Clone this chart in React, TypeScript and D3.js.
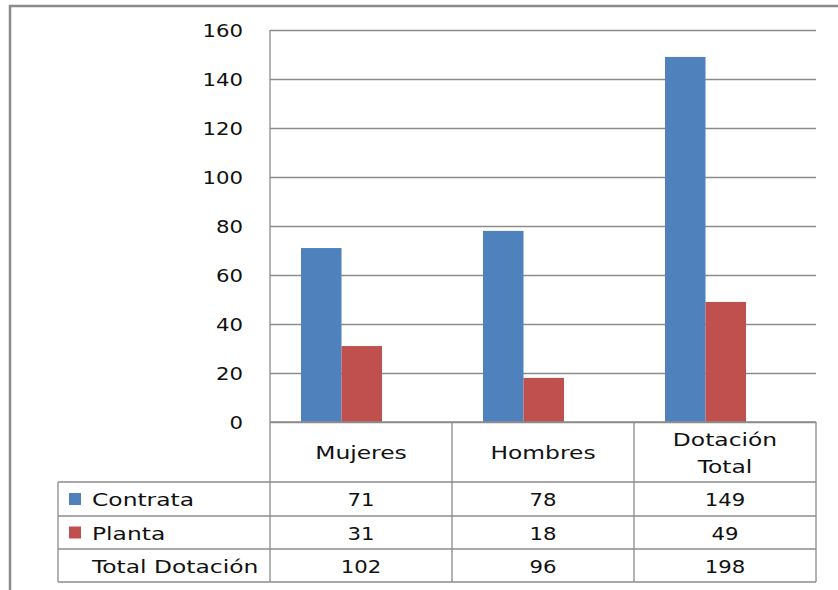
import React, { useEffect, useRef } from "react";
import * as d3 from "d3";

const categories = ["Mujeres", "Hombres", "Dotación Total"];
const contrata = [71, 78, 149];
const planta = [31, 18, 49];
const totalDotacion = [102, 96, 198];
const yTicks = [0, 20, 40, 60, 80, 100, 120, 140, 160];

const series = [
  { name: "Contrata", values: contrata, color: "#4F81BD" },
  { name: "Planta", values: planta, color: "#C0504D" },
];

const App: React.FC = () => {
  const svgRef = useRef<SVGSVGElement>(null);

  useEffect(() => {
    if (!svgRef.current) return;
    const W = 838, H = 590;
    const plot = { left: 270, right: 816, top: 30, bottom: 422 };
    const rowH = [482, 516, 549, 582]; // table row boundaries
    const tableLeft = 58;
    const font = "'DejaVu Sans', sans-serif";
    const fs = 18;
    const gridColor = "#8c8c8c";

    const svg = d3.select(svgRef.current).attr("width", W).attr("height", H);
    svg.selectAll("*").remove();

    svg.append("rect").attr("width", W).attr("height", H).attr("fill", "#fff");

    // outer frame (left + top visible)
    svg.append("path")
      .attr("d", `M10,${H} L10,6 L${W},6`)
      .attr("fill", "none").attr("stroke", "#8a8a8a").attr("stroke-width", 2.5);

    // text helper - the reference glyphs are stretched wide
    const label = (
      g: d3.Selection<any, unknown, null, undefined>,
      tx: number, ty: number, str: string,
      anchor = "start", sx = 1.3,
    ) =>
      g.append("text")
        .attr("transform", `translate(${tx},${ty}) scale(${sx},1)`)
        .attr("text-anchor", anchor)
        .attr("font-family", font).attr("font-size", fs).attr("fill", "#111")
        .text(str);

    const x = d3.scaleBand().domain(categories).range([plot.left, plot.right]).padding(0);
    const y = d3.scaleLinear().domain([0, 160]).range([plot.bottom, plot.top]);

    // grid lines
    svg.append("g")
      .attr("transform", `translate(${plot.left},0)`)
      .call(d3.axisLeft(y).tickValues(yTicks).tickSize(-(plot.right - plot.left)).tickFormat(() => ""))
      .call(g => g.select(".domain").remove())
      .call(g => g.selectAll(".tick line").attr("stroke", gridColor).attr("stroke-width", 1.3));

    // y tick labels
    const yl = svg.append("g");
    yTicks.forEach(t => label(yl, 243, y(t) + 7, `${t}`, "end", 1.18));

    // plot left edge
    svg.append("line")
      .attr("x1", plot.left).attr("x2", plot.left)
      .attr("y1", plot.top).attr("y2", plot.bottom)
      .attr("stroke", gridColor).attr("stroke-width", 1.3);

    // bars
    const inner = d3.scaleBand().domain(series.map(s => s.name)).range([31, 112]).padding(0);
    series.forEach(s => {
      svg.append("g").selectAll("rect")
        .data(s.values)
        .join("rect")
        .attr("x", (_, i) => x(categories[i])! + inner(s.name)!)
        .attr("y", d => y(d))
        .attr("width", inner.bandwidth())
        .attr("height", d => y(0) - y(d))
        .attr("fill", s.color);
    });

    // data table
    const tbl = svg.append("g");
    const line = (x1: number, y1: number, x2: number, y2: number) =>
      tbl.append("line").attr("x1", x1).attr("y1", y1).attr("x2", x2).attr("y2", y2)
        .attr("stroke", gridColor).attr("stroke-width", 1.3);

    line(plot.left, plot.bottom, plot.right, plot.bottom);
    rowH.forEach(r => line(tableLeft, r, plot.right, r));
    line(tableLeft, rowH[0], tableLeft, rowH[3]);
    categories.forEach(c => line(x(c)!, plot.bottom, x(c)!, rowH[3]));
    line(plot.right, plot.bottom, plot.right, rowH[3]);

    // header labels
    categories.forEach(c => {
      const cx = x(c)! + x.bandwidth() / 2;
      if (c === "Dotación Total") {
        label(tbl, cx, 446, "Dotación", "middle");
        label(tbl, cx, 473, "Total", "middle");
      } else {
        label(tbl, cx, 459, c, "middle");
      }
    });

    // rows
    const rows = [
      { name: "Contrata", values: contrata, color: "#4F81BD" },
      { name: "Planta", values: planta, color: "#C0504D" },
      { name: "Total Dotación", values: totalDotacion, color: null as string | null },
    ];
    rows.forEach((r, ri) => {
      const ty = (rowH[ri] + rowH[ri + 1]) / 2 + 7;
      if (r.color) {
        tbl.append("rect")
          .attr("x", 69).attr("y", ty - 13).attr("width", 12).attr("height", 12)
          .attr("fill", r.color);
      }
      label(tbl, 92, ty, r.name);
      r.values.forEach((v, i) => {
        label(tbl, x(categories[i])! + x.bandwidth() / 2, ty, `${v}`, "middle", 1.18);
      });
    });
  }, []);

  return <svg ref={svgRef} style={{ position: "absolute", left: 0, top: 0, display: "block" }} />;
};

export default App;
